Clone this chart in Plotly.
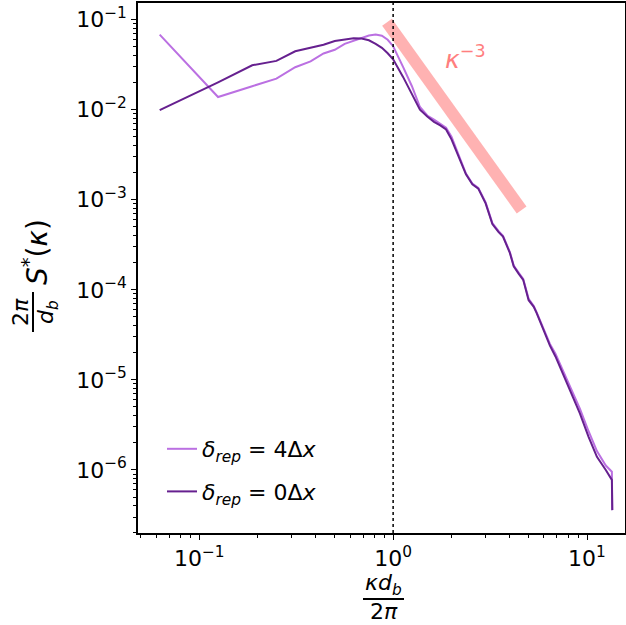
import plotly.graph_objects as go

# wavenumber index k; x = k/16 = kappa*d_b/(2*pi)
k_index = [1, 2, 3, 4, 5, 6, 7, 8, 9, 10, 11, 12, 13, 14, 15, 16, 18, 20, 22, 24, 26, 28, 30, 32,
           35, 38, 41, 44, 48, 52, 56, 59, 64, 67, 71, 75, 80, 85, 88, 95, 103, 110, 116, 130,
           147, 163, 180, 200, 215, 216]
k_step = 1.0 / 16.0

spec_rep4 = [0.0681, 0.0138, 0.0182, 0.0221, 0.0296, 0.0344, 0.0420, 0.0462, 0.0538, 0.0582,
             0.0628, 0.0664, 0.0681, 0.0661, 0.0597, 0.0506, 0.0298, 0.0182, 0.0107, 8.61e-3,
             7.76e-3, 6.92e-3, 6.31e-3, 5.01e-3, 3.02e-3, 1.95e-3, 1.51e-3, 1.35e-3, 9.33e-4,
             5.50e-4, 4.47e-4, 3.98e-4, 2.63e-4, 1.86e-4, 1.55e-4, 1.32e-4, 7.94e-5, 6.61e-5,
             5.62e-5, 3.72e-5, 2.51e-5, 1.95e-5, 1.51e-5, 8.51e-6, 4.79e-6, 2.69e-6, 1.62e-6,
             1.12e-6, 9.55e-7, 3.58e-7]

spec_rep0 = [9.9e-3, 0.0201, 0.0311, 0.0348, 0.0445, 0.0486, 0.0525, 0.0578, 0.0600, 0.0622,
             0.0615, 0.0589, 0.0538, 0.0486, 0.0423, 0.0362, 0.0231, 0.0151, 0.0100, 8.41e-3,
             7.33e-3, 6.68e-3, 6.03e-3, 4.68e-3, 2.95e-3, 1.91e-3, 1.48e-3, 1.33e-3, 9.12e-4,
             5.37e-4, 4.37e-4, 3.89e-4, 2.57e-4, 1.82e-4, 1.51e-4, 1.29e-4, 7.67e-5, 6.46e-5,
             5.50e-5, 3.63e-5, 2.40e-5, 1.82e-5, 1.39e-5, 7.69e-6, 4.24e-6, 2.33e-6, 1.40e-6,
             1.00e-6, 7.76e-7, 3.58e-7]

# kappa^-3 reference line
ref_x = [0.93, 4.6]
ref_coef = 0.075

x_tickvals = [0.1, 1, 10]
x_ticktext = ["10<sup>−1</sup>", "10<sup>0</sup>", "10<sup>1</sup>"]
y_tickvals = [1e-6, 1e-5, 1e-4, 1e-3, 1e-2, 1e-1]
y_ticktext = ["10<sup>−6</sup>", "10<sup>−5</sup>", "10<sup>−4</sup>",
              "10<sup>−3</sup>", "10<sup>−2</sup>", "10<sup>−1</sup>"]

x_vals = [k * k_step for k in k_index]
ref_y = [ref_coef * xx ** -3 for xx in ref_x]

FONT = "DejaVu Sans"
LIGHT = "#bb70e2"
DARK = "#66208f"
FS = 22

W, H = 626, 625
L, R, T, B = 138, 1, 3, 92
pw, ph = W - L - R, H - T - B


def px(xpix):
    return (xpix - L) / pw


def py(ypix):
    return (H - B - ypix) / ph


def note(xp, yp, text, size=FS, angle=0, color="black"):
    fig.add_annotation(x=px(xp), y=py(yp), xref="paper", yref="paper", text=text,
                       showarrow=False, textangle=angle, xanchor="center", yanchor="middle",
                       font=dict(family=FONT, size=size, color=color))


fig = go.Figure()
fig.add_trace(go.Scatter(x=ref_x, y=ref_y, mode="lines",
                         line=dict(color="rgba(255,0,0,0.3)", width=12),
                         showlegend=False, hoverinfo="skip"))
fig.add_trace(go.Scatter(x=x_vals, y=spec_rep4, mode="lines",
                         line=dict(color=LIGHT, width=2),
                         name="<i>δ</i><sub><i>rep</i></sub> = 4Δ<i>x</i>", legendgroup="a"))
fig.add_trace(go.Scatter(x=x_vals, y=spec_rep0, mode="lines",
                         line=dict(color=DARK, width=2),
                         name="<i>δ</i><sub><i>rep</i></sub> = 0Δ<i>x</i>", legendgroup="b"))

fig.add_shape(type="line", xref="x", yref="paper", x0=1, x1=1, y0=0, y1=1,
              line=dict(color="black", width=1.5, dash="dot"))

fig.add_annotation(x=0.371, y=-1.418, xref="x", yref="y",
                   text="<i>κ</i><sup>−3</sup>", showarrow=False,
                   xanchor="center", yanchor="middle",
                   font=dict(family=FONT, size=25, color="#ff7f7f"))

# x-axis title as a fraction
note(383.5, 584, "<i>κd</i><sub><i>b</i></sub>")
fig.add_shape(type="line", xref="paper", yref="paper", x0=px(363), x1=px(404),
              y0=py(599), y1=py(599), line=dict(color="black", width=2))
note(383.5, 611, "2<i>π</i>")

# y-axis title as a rotated fraction
note(20, 312, "2<i>π</i>", angle=-90)
fig.add_shape(type="line", xref="paper", yref="paper", x0=px(33), x1=px(33),
              y0=py(292), y1=py(332), line=dict(color="black", width=2))
note(47, 312, "<i>d</i><sub><i>b</i></sub>", angle=-90)
note(35, 252, "<i>S</i><sup>*</sup>(<i>κ</i>)", size=28, angle=-90)

axis_common = dict(type="log", ticks="outside", ticklen=5, tickwidth=1.2, tickcolor="black",
                   showline=True, linecolor="black", linewidth=1.5, mirror=True,
                   showgrid=False, zeroline=False, automargin=False,
                   tickfont=dict(family=FONT, size=FS, color="black"),
                   minor=dict(ticks="outside", ticklen=3, tickcolor="black", dtick="D1",
                              showgrid=False))
fig.update_xaxes(range=[-1.316, 1.196], tickvals=x_tickvals, ticktext=x_ticktext, **axis_common)
fig.update_yaxes(range=[-6.70, -0.816], tickvals=y_tickvals, ticktext=y_ticktext, **axis_common)

fig.update_layout(width=W, height=H, margin=dict(l=L, r=R, t=T, b=B, autoexpand=False),
                  plot_bgcolor="white", paper_bgcolor="white",
                  font=dict(family=FONT, size=FS, color="black"),
                  legend=dict(x=px(162), y=py(428), xanchor="left", yanchor="top",
                              bgcolor="rgba(0,0,0,0)", tracegroupgap=11,
                              font=dict(family=FONT, size=FS, color="black")),
                  showlegend=True)

fig.write_html("out.html", config={"displayModeBar": False})

with open("out.html", "r", encoding="utf-8") as fh:
    html = fh.read()
html = html.replace("<head>", "<head><style>html,body{margin:0;padding:0;overflow:hidden;}</style>", 1)
with open("out.html", "w", encoding="utf-8") as fh:
    fh.write(html)
